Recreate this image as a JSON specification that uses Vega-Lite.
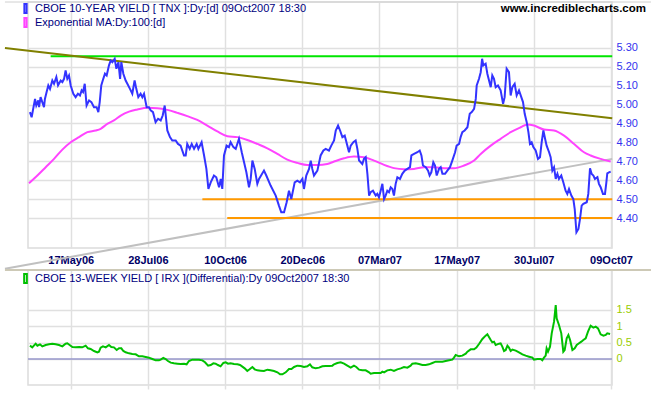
{
  "$schema": "https://vega.github.io/schema/vega-lite/v6.json",
  "padding": 0,
  "background": "white",
  "spacing": 22,
  "bounds": "flush",
  "resolve": {"scale": {"color": "independent"}},
  "config": {
    "font": "Liberation Sans",
    "view": {"stroke": "#dcdcdc", "strokeWidth": 1.5},
    "axis": {"gridColor": "#e0e0e0", "gridWidth": 1.5, "domain": false, "labelFont": "Liberation Sans", "title": null}
  },
  "datasets": {
    "trends": [
      {"name": "green", "d": -13.0, "v": 5.255}, {"name": "green", "d": 350.8, "v": 5.255},
      {"name": "olive", "d": -42.6, "v": 5.299}, {"name": "olive", "d": 350.8, "v": 4.928},
      {"name": "gray", "d": -42.6, "v": 4.132}, {"name": "gray", "d": 350.8, "v": 4.713},
      {"name": "orange1", "d": 85.3, "v": 4.5}, {"name": "orange1", "d": 350.8, "v": 4.5},
      {"name": "orange2", "d": 101.4, "v": 4.4}, {"name": "orange2", "d": 350.8, "v": 4.4}
    ],
    "ema": [
      {"s":"EMA","d":-27.0,"v":4.584},{"s":"EMA","d":-21.6,"v":4.625},{"s":"EMA","d":-16.2,"v":4.669},{"s":"EMA","d":-10.8,"v":4.713},{"s":"EMA","d":-5.4,"v":4.762},{"s":"EMA","d":0.0,"v":4.801},{"s":"EMA","d":5.4,"v":4.828},{"s":"EMA","d":10.8,"v":4.854},{"s":"EMA","d":16.2,"v":4.863},{"s":"EMA","d":19.4,"v":4.872},{"s":"EMA","d":23.7,"v":4.898},{"s":"EMA","d":28.0,"v":4.916},{"s":"EMA","d":32.4,"v":4.942},{"s":"EMA","d":37.8,"v":4.963},{"s":"EMA","d":43.2,"v":4.974},{"s":"EMA","d":49.6,"v":4.983},{"s":"EMA","d":56.1,"v":4.981},{"s":"EMA","d":62.6,"v":4.972},{"s":"EMA","d":69.1,"v":4.956},{"s":"EMA","d":75.5,"v":4.939},{"s":"EMA","d":82.0,"v":4.919},{"s":"EMA","d":88.5,"v":4.889},{"s":"EMA","d":95.0,"v":4.858},{"s":"EMA","d":101.5,"v":4.833},{"s":"EMA","d":108.0,"v":4.828},{"s":"EMA","d":114.4,"v":4.813},{"s":"EMA","d":120.9,"v":4.792},{"s":"EMA","d":127.4,"v":4.769},{"s":"EMA","d":133.9,"v":4.739},{"s":"EMA","d":140.3,"v":4.709},{"s":"EMA","d":146.8,"v":4.692},{"s":"EMA","d":153.3,"v":4.681},{"s":"EMA","d":159.8,"v":4.681},{"s":"EMA","d":166.2,"v":4.686},{"s":"EMA","d":170.6,"v":4.699},{"s":"EMA","d":177.1,"v":4.716},{"s":"EMA","d":183.5,"v":4.725},{"s":"EMA","d":190.0,"v":4.722},{"s":"EMA","d":196.5,"v":4.704},{"s":"EMA","d":203.0,"v":4.681},{"s":"EMA","d":209.4,"v":4.664},{"s":"EMA","d":215.9,"v":4.658},{"s":"EMA","d":222.4,"v":4.660},{"s":"EMA","d":228.9,"v":4.669},{"s":"EMA","d":235.4,"v":4.669},{"s":"EMA","d":241.8,"v":4.664},{"s":"EMA","d":248.3,"v":4.664},{"s":"EMA","d":254.8,"v":4.678},{"s":"EMA","d":261.3,"v":4.704},{"s":"EMA","d":265.6,"v":4.739},{"s":"EMA","d":272.1,"v":4.783},{"s":"EMA","d":278.5,"v":4.819},{"s":"EMA","d":285.0,"v":4.854},{"s":"EMA","d":291.5,"v":4.880},{"s":"EMA","d":295.8,"v":4.895},{"s":"EMA","d":300.1,"v":4.889},{"s":"EMA","d":306.6,"v":4.868},{"s":"EMA","d":313.1,"v":4.863},{"s":"EMA","d":319.6,"v":4.836},{"s":"EMA","d":326.1,"v":4.792},{"s":"EMA","d":332.5,"v":4.748},{"s":"EMA","d":336.8,"v":4.731},{"s":"EMA","d":343.3,"v":4.713},{"s":"EMA","d":349.8,"v":4.699}
    ],
    "tnx": [
      {"s":"TNX","d":-26.4,"v":4.960},{"s":"TNX","d":-25.3,"v":4.933},{"s":"TNX","d":-23.1,"v":5.030},{"s":"TNX","d":-22.3,"v":4.995},{"s":"TNX","d":-21.0,"v":5.022},{"s":"TNX","d":-20.5,"v":4.986},{"s":"TNX","d":-19.5,"v":5.039},{"s":"TNX","d":-18.4,"v":5.013},{"s":"TNX","d":-17.3,"v":4.986},{"s":"TNX","d":-16.7,"v":5.030},{"s":"TNX","d":-15.6,"v":5.066},{"s":"TNX","d":-14.5,"v":5.101},{"s":"TNX","d":-13.4,"v":5.083},{"s":"TNX","d":-11.9,"v":5.127},{"s":"TNX","d":-10.8,"v":5.110},{"s":"TNX","d":-9.3,"v":5.145},{"s":"TNX","d":-8.2,"v":5.101},{"s":"TNX","d":-6.5,"v":5.127},{"s":"TNX","d":-5.4,"v":5.119},{"s":"TNX","d":-4.3,"v":5.136},{"s":"TNX","d":-3.3,"v":5.180},{"s":"TNX","d":-2.2,"v":5.136},{"s":"TNX","d":-1.1,"v":5.154},{"s":"TNX","d":0.0,"v":5.101},{"s":"TNX","d":1.7,"v":5.057},{"s":"TNX","d":3.2,"v":5.039},{"s":"TNX","d":4.7,"v":5.057},{"s":"TNX","d":6.0,"v":5.048},{"s":"TNX","d":7.1,"v":5.075},{"s":"TNX","d":8.0,"v":5.066},{"s":"TNX","d":9.1,"v":5.110},{"s":"TNX","d":10.3,"v":4.995},{"s":"TNX","d":11.9,"v":5.022},{"s":"TNX","d":13.4,"v":5.013},{"s":"TNX","d":15.1,"v":4.986},{"s":"TNX","d":16.8,"v":4.986},{"s":"TNX","d":17.9,"v":4.960},{"s":"TNX","d":18.8,"v":5.013},{"s":"TNX","d":19.8,"v":5.101},{"s":"TNX","d":21.1,"v":5.136},{"s":"TNX","d":22.2,"v":5.163},{"s":"TNX","d":23.3,"v":5.154},{"s":"TNX","d":24.8,"v":5.207},{"s":"TNX","d":25.9,"v":5.233},{"s":"TNX","d":27.0,"v":5.224},{"s":"TNX","d":28.5,"v":5.242},{"s":"TNX","d":29.6,"v":5.189},{"s":"TNX","d":30.9,"v":5.224},{"s":"TNX","d":32.0,"v":5.136},{"s":"TNX","d":32.8,"v":5.224},{"s":"TNX","d":34.1,"v":5.163},{"s":"TNX","d":35.6,"v":5.127},{"s":"TNX","d":36.7,"v":5.110},{"s":"TNX","d":38.4,"v":5.083},{"s":"TNX","d":39.9,"v":5.057},{"s":"TNX","d":41.4,"v":5.127},{"s":"TNX","d":42.5,"v":5.083},{"s":"TNX","d":43.8,"v":5.039},{"s":"TNX","d":45.3,"v":5.057},{"s":"TNX","d":46.4,"v":5.039},{"s":"TNX","d":47.5,"v":5.057},{"s":"TNX","d":49.2,"v":4.986},{"s":"TNX","d":50.7,"v":4.986},{"s":"TNX","d":51.8,"v":4.969},{"s":"TNX","d":53.3,"v":4.960},{"s":"TNX","d":55.0,"v":4.907},{"s":"TNX","d":56.6,"v":4.925},{"s":"TNX","d":58.3,"v":4.916},{"s":"TNX","d":59.6,"v":4.942},{"s":"TNX","d":60.9,"v":4.995},{"s":"TNX","d":62.6,"v":4.863},{"s":"TNX","d":64.3,"v":4.828},{"s":"TNX","d":65.8,"v":4.810},{"s":"TNX","d":68.0,"v":4.810},{"s":"TNX","d":69.5,"v":4.792},{"s":"TNX","d":71.2,"v":4.783},{"s":"TNX","d":73.4,"v":4.731},{"s":"TNX","d":74.5,"v":4.731},{"s":"TNX","d":75.5,"v":4.792},{"s":"TNX","d":77.1,"v":4.766},{"s":"TNX","d":78.4,"v":4.792},{"s":"TNX","d":79.9,"v":4.766},{"s":"TNX","d":81.6,"v":4.792},{"s":"TNX","d":82.7,"v":4.766},{"s":"TNX","d":84.8,"v":4.801},{"s":"TNX","d":86.4,"v":4.731},{"s":"TNX","d":87.9,"v":4.660},{"s":"TNX","d":89.2,"v":4.554},{"s":"TNX","d":90.7,"v":4.589},{"s":"TNX","d":92.8,"v":4.625},{"s":"TNX","d":94.3,"v":4.616},{"s":"TNX","d":96.1,"v":4.563},{"s":"TNX","d":97.2,"v":4.607},{"s":"TNX","d":98.2,"v":4.554},{"s":"TNX","d":99.3,"v":4.731},{"s":"TNX","d":101.0,"v":4.783},{"s":"TNX","d":102.5,"v":4.775},{"s":"TNX","d":103.6,"v":4.801},{"s":"TNX","d":105.4,"v":4.775},{"s":"TNX","d":106.9,"v":4.766},{"s":"TNX","d":109.0,"v":4.819},{"s":"TNX","d":110.8,"v":4.748},{"s":"TNX","d":112.3,"v":4.695},{"s":"TNX","d":113.8,"v":4.642},{"s":"TNX","d":115.5,"v":4.563},{"s":"TNX","d":116.6,"v":4.607},{"s":"TNX","d":117.7,"v":4.704},{"s":"TNX","d":119.2,"v":4.660},{"s":"TNX","d":120.9,"v":4.581},{"s":"TNX","d":122.0,"v":4.607},{"s":"TNX","d":125.2,"v":4.651},{"s":"TNX","d":126.7,"v":4.625},{"s":"TNX","d":129.5,"v":4.572},{"s":"TNX","d":132.8,"v":4.519},{"s":"TNX","d":134.9,"v":4.466},{"s":"TNX","d":136.4,"v":4.431},{"s":"TNX","d":138.2,"v":4.431},{"s":"TNX","d":139.9,"v":4.484},{"s":"TNX","d":141.4,"v":4.545},{"s":"TNX","d":142.9,"v":4.501},{"s":"TNX","d":145.1,"v":4.589},{"s":"TNX","d":146.8,"v":4.598},{"s":"TNX","d":148.5,"v":4.589},{"s":"TNX","d":150.1,"v":4.607},{"s":"TNX","d":151.1,"v":4.554},{"s":"TNX","d":152.6,"v":4.625},{"s":"TNX","d":154.4,"v":4.660},{"s":"TNX","d":155.5,"v":4.704},{"s":"TNX","d":156.5,"v":4.660},{"s":"TNX","d":157.6,"v":4.625},{"s":"TNX","d":159.8,"v":4.651},{"s":"TNX","d":161.9,"v":4.731},{"s":"TNX","d":163.7,"v":4.757},{"s":"TNX","d":165.2,"v":4.766},{"s":"TNX","d":167.3,"v":4.757},{"s":"TNX","d":168.8,"v":4.783},{"s":"TNX","d":170.6,"v":4.810},{"s":"TNX","d":171.7,"v":4.863},{"s":"TNX","d":173.2,"v":4.889},{"s":"TNX","d":174.5,"v":4.863},{"s":"TNX","d":176.0,"v":4.828},{"s":"TNX","d":177.5,"v":4.836},{"s":"TNX","d":179.2,"v":4.783},{"s":"TNX","d":180.3,"v":4.748},{"s":"TNX","d":181.4,"v":4.783},{"s":"TNX","d":183.1,"v":4.801},{"s":"TNX","d":184.6,"v":4.810},{"s":"TNX","d":185.7,"v":4.766},{"s":"TNX","d":186.8,"v":4.704},{"s":"TNX","d":187.9,"v":4.695},{"s":"TNX","d":188.9,"v":4.686},{"s":"TNX","d":190.0,"v":4.713},{"s":"TNX","d":191.1,"v":4.722},{"s":"TNX","d":192.2,"v":4.634},{"s":"TNX","d":193.3,"v":4.519},{"s":"TNX","d":194.3,"v":4.537},{"s":"TNX","d":195.8,"v":4.545},{"s":"TNX","d":197.6,"v":4.519},{"s":"TNX","d":198.6,"v":4.528},{"s":"TNX","d":199.7,"v":4.510},{"s":"TNX","d":200.8,"v":4.545},{"s":"TNX","d":201.9,"v":4.581},{"s":"TNX","d":203.0,"v":4.501},{"s":"TNX","d":204.0,"v":4.519},{"s":"TNX","d":205.1,"v":4.545},{"s":"TNX","d":206.2,"v":4.537},{"s":"TNX","d":207.3,"v":4.563},{"s":"TNX","d":208.4,"v":4.554},{"s":"TNX","d":209.4,"v":4.519},{"s":"TNX","d":210.5,"v":4.581},{"s":"TNX","d":211.6,"v":4.616},{"s":"TNX","d":213.3,"v":4.607},{"s":"TNX","d":214.8,"v":4.634},{"s":"TNX","d":216.4,"v":4.651},{"s":"TNX","d":218.1,"v":4.660},{"s":"TNX","d":219.8,"v":4.669},{"s":"TNX","d":220.7,"v":4.731},{"s":"TNX","d":222.4,"v":4.739},{"s":"TNX","d":224.6,"v":4.748},{"s":"TNX","d":226.1,"v":4.757},{"s":"TNX","d":227.2,"v":4.731},{"s":"TNX","d":228.2,"v":4.678},{"s":"TNX","d":230.0,"v":4.669},{"s":"TNX","d":231.5,"v":4.651},{"s":"TNX","d":232.5,"v":4.625},{"s":"TNX","d":233.6,"v":4.642},{"s":"TNX","d":234.9,"v":4.695},{"s":"TNX","d":236.0,"v":4.678},{"s":"TNX","d":237.1,"v":4.625},{"s":"TNX","d":238.6,"v":4.660},{"s":"TNX","d":239.7,"v":4.669},{"s":"TNX","d":240.8,"v":4.634},{"s":"TNX","d":242.5,"v":4.634},{"s":"TNX","d":244.0,"v":4.651},{"s":"TNX","d":245.7,"v":4.669},{"s":"TNX","d":247.2,"v":4.704},{"s":"TNX","d":249.0,"v":4.748},{"s":"TNX","d":250.0,"v":4.783},{"s":"TNX","d":251.6,"v":4.792},{"s":"TNX","d":252.6,"v":4.828},{"s":"TNX","d":253.7,"v":4.854},{"s":"TNX","d":255.2,"v":4.863},{"s":"TNX","d":257.0,"v":4.880},{"s":"TNX","d":258.5,"v":4.951},{"s":"TNX","d":259.8,"v":4.960},{"s":"TNX","d":261.3,"v":4.977},{"s":"TNX","d":262.4,"v":5.030},{"s":"TNX","d":263.0,"v":5.101},{"s":"TNX","d":264.5,"v":5.136},{"s":"TNX","d":265.6,"v":5.171},{"s":"TNX","d":266.5,"v":5.242},{"s":"TNX","d":267.3,"v":5.207},{"s":"TNX","d":268.8,"v":5.216},{"s":"TNX","d":269.9,"v":5.163},{"s":"TNX","d":271.0,"v":5.127},{"s":"TNX","d":272.1,"v":5.092},{"s":"TNX","d":273.1,"v":5.154},{"s":"TNX","d":274.2,"v":5.136},{"s":"TNX","d":275.3,"v":5.092},{"s":"TNX","d":276.8,"v":5.101},{"s":"TNX","d":278.5,"v":5.075},{"s":"TNX","d":280.1,"v":5.004},{"s":"TNX","d":281.1,"v":5.039},{"s":"TNX","d":282.4,"v":5.189},{"s":"TNX","d":283.9,"v":5.171},{"s":"TNX","d":285.0,"v":5.048},{"s":"TNX","d":286.1,"v":5.092},{"s":"TNX","d":287.6,"v":5.110},{"s":"TNX","d":288.9,"v":5.048},{"s":"TNX","d":290.4,"v":5.075},{"s":"TNX","d":291.9,"v":5.039},{"s":"TNX","d":293.0,"v":5.013},{"s":"TNX","d":294.1,"v":4.951},{"s":"TNX","d":295.4,"v":4.907},{"s":"TNX","d":296.5,"v":4.854},{"s":"TNX","d":297.5,"v":4.792},{"s":"TNX","d":298.6,"v":4.801},{"s":"TNX","d":299.7,"v":4.775},{"s":"TNX","d":301.2,"v":4.757},{"s":"TNX","d":302.7,"v":4.713},{"s":"TNX","d":304.0,"v":4.722},{"s":"TNX","d":305.1,"v":4.801},{"s":"TNX","d":306.2,"v":4.863},{"s":"TNX","d":307.3,"v":4.819},{"s":"TNX","d":308.3,"v":4.783},{"s":"TNX","d":309.9,"v":4.748},{"s":"TNX","d":310.9,"v":4.722},{"s":"TNX","d":312.0,"v":4.651},{"s":"TNX","d":313.1,"v":4.669},{"s":"TNX","d":314.2,"v":4.607},{"s":"TNX","d":315.3,"v":4.634},{"s":"TNX","d":316.3,"v":4.607},{"s":"TNX","d":317.8,"v":4.625},{"s":"TNX","d":319.1,"v":4.589},{"s":"TNX","d":320.6,"v":4.545},{"s":"TNX","d":321.7,"v":4.528},{"s":"TNX","d":322.8,"v":4.554},{"s":"TNX","d":324.3,"v":4.519},{"s":"TNX","d":325.6,"v":4.501},{"s":"TNX","d":326.5,"v":4.448},{"s":"TNX","d":327.6,"v":4.325},{"s":"TNX","d":328.9,"v":4.343},{"s":"TNX","d":329.9,"v":4.395},{"s":"TNX","d":331.0,"v":4.466},{"s":"TNX","d":332.1,"v":4.475},{"s":"TNX","d":334.3,"v":4.484},{"s":"TNX","d":335.3,"v":4.528},{"s":"TNX","d":336.4,"v":4.663},{"s":"TNX","d":337.5,"v":4.633},{"s":"TNX","d":338.6,"v":4.625},{"s":"TNX","d":339.6,"v":4.607},{"s":"TNX","d":341.2,"v":4.616},{"s":"TNX","d":342.2,"v":4.581},{"s":"TNX","d":343.3,"v":4.563},{"s":"TNX","d":344.8,"v":4.528},{"s":"TNX","d":346.1,"v":4.528},{"s":"TNX","d":347.0,"v":4.589},{"s":"TNX","d":347.6,"v":4.637},{"s":"TNX","d":348.7,"v":4.642},{"s":"TNX","d":349.8,"v":4.646}
    ],
    "irx": [
      {"s":"IRX","d":-26.4,"v":0.408},{"s":"IRX","d":-24.9,"v":0.357},{"s":"IRX","d":-22.7,"v":0.469},{"s":"IRX","d":-21.6,"v":0.408},{"s":"IRX","d":-19.9,"v":0.449},{"s":"IRX","d":-18.4,"v":0.388},{"s":"IRX","d":-16.2,"v":0.429},{"s":"IRX","d":-14.1,"v":0.449},{"s":"IRX","d":-11.9,"v":0.469},{"s":"IRX","d":-9.7,"v":0.449},{"s":"IRX","d":-7.6,"v":0.429},{"s":"IRX","d":-5.4,"v":0.388},{"s":"IRX","d":-3.3,"v":0.469},{"s":"IRX","d":-2.2,"v":0.480},{"s":"IRX","d":-0.7,"v":0.429},{"s":"IRX","d":1.1,"v":0.367},{"s":"IRX","d":3.2,"v":0.357},{"s":"IRX","d":5.4,"v":0.367},{"s":"IRX","d":7.5,"v":0.357},{"s":"IRX","d":9.7,"v":0.408},{"s":"IRX","d":11.2,"v":0.327},{"s":"IRX","d":12.9,"v":0.306},{"s":"IRX","d":15.1,"v":0.245},{"s":"IRX","d":17.3,"v":0.204},{"s":"IRX","d":18.3,"v":0.224},{"s":"IRX","d":19.4,"v":0.347},{"s":"IRX","d":20.9,"v":0.388},{"s":"IRX","d":22.7,"v":0.357},{"s":"IRX","d":24.8,"v":0.429},{"s":"IRX","d":26.3,"v":0.367},{"s":"IRX","d":28.0,"v":0.357},{"s":"IRX","d":29.8,"v":0.276},{"s":"IRX","d":31.3,"v":0.327},{"s":"IRX","d":32.8,"v":0.327},{"s":"IRX","d":34.1,"v":0.245},{"s":"IRX","d":35.6,"v":0.204},{"s":"IRX","d":37.8,"v":0.173},{"s":"IRX","d":39.9,"v":0.153},{"s":"IRX","d":42.1,"v":0.143},{"s":"IRX","d":44.2,"v":0.082},{"s":"IRX","d":46.4,"v":0.082},{"s":"IRX","d":48.6,"v":0.061},{"s":"IRX","d":50.7,"v":0.041},{"s":"IRX","d":52.9,"v":0.0},{"s":"IRX","d":55.0,"v":-0.041},{"s":"IRX","d":57.2,"v":-0.041},{"s":"IRX","d":58.3,"v":-0.020},{"s":"IRX","d":60.0,"v":0.031},{"s":"IRX","d":61.5,"v":0.0},{"s":"IRX","d":63.0,"v":-0.061},{"s":"IRX","d":64.8,"v":-0.112},{"s":"IRX","d":66.9,"v":-0.133},{"s":"IRX","d":69.1,"v":-0.143},{"s":"IRX","d":71.2,"v":-0.153},{"s":"IRX","d":73.4,"v":-0.143},{"s":"IRX","d":75.1,"v":-0.163},{"s":"IRX","d":76.6,"v":-0.061},{"s":"IRX","d":78.8,"v":-0.020},{"s":"IRX","d":81.0,"v":-0.020},{"s":"IRX","d":83.1,"v":-0.020},{"s":"IRX","d":85.3,"v":-0.041},{"s":"IRX","d":87.0,"v":-0.102},{"s":"IRX","d":89.0,"v":-0.204},{"s":"IRX","d":90.7,"v":-0.184},{"s":"IRX","d":92.4,"v":-0.133},{"s":"IRX","d":93.9,"v":-0.143},{"s":"IRX","d":95.4,"v":-0.184},{"s":"IRX","d":97.1,"v":-0.224},{"s":"IRX","d":98.9,"v":-0.122},{"s":"IRX","d":100.4,"v":-0.102},{"s":"IRX","d":101.9,"v":-0.143},{"s":"IRX","d":103.6,"v":-0.133},{"s":"IRX","d":105.8,"v":-0.153},{"s":"IRX","d":108.0,"v":-0.163},{"s":"IRX","d":109.7,"v":-0.184},{"s":"IRX","d":111.2,"v":-0.235},{"s":"IRX","d":112.7,"v":-0.286},{"s":"IRX","d":114.4,"v":-0.367},{"s":"IRX","d":115.9,"v":-0.316},{"s":"IRX","d":117.7,"v":-0.245},{"s":"IRX","d":119.2,"v":-0.316},{"s":"IRX","d":120.9,"v":-0.347},{"s":"IRX","d":123.1,"v":-0.357},{"s":"IRX","d":125.2,"v":-0.367},{"s":"IRX","d":127.4,"v":-0.327},{"s":"IRX","d":129.5,"v":-0.347},{"s":"IRX","d":131.7,"v":-0.367},{"s":"IRX","d":133.9,"v":-0.408},{"s":"IRX","d":135.6,"v":-0.469},{"s":"IRX","d":137.1,"v":-0.469},{"s":"IRX","d":139.3,"v":-0.408},{"s":"IRX","d":141.4,"v":-0.306},{"s":"IRX","d":143.0,"v":-0.306},{"s":"IRX","d":144.7,"v":-0.245},{"s":"IRX","d":146.8,"v":-0.204},{"s":"IRX","d":149.0,"v":-0.214},{"s":"IRX","d":151.1,"v":-0.245},{"s":"IRX","d":153.3,"v":-0.224},{"s":"IRX","d":155.0,"v":-0.163},{"s":"IRX","d":156.5,"v":-0.255},{"s":"IRX","d":158.7,"v":-0.286},{"s":"IRX","d":160.9,"v":-0.265},{"s":"IRX","d":163.0,"v":-0.224},{"s":"IRX","d":165.2,"v":-0.214},{"s":"IRX","d":167.3,"v":-0.214},{"s":"IRX","d":169.5,"v":-0.204},{"s":"IRX","d":170.6,"v":-0.163},{"s":"IRX","d":172.7,"v":-0.122},{"s":"IRX","d":174.9,"v":-0.102},{"s":"IRX","d":177.1,"v":-0.143},{"s":"IRX","d":179.2,"v":-0.204},{"s":"IRX","d":181.4,"v":-0.265},{"s":"IRX","d":183.5,"v":-0.204},{"s":"IRX","d":185.0,"v":-0.245},{"s":"IRX","d":186.8,"v":-0.327},{"s":"IRX","d":188.9,"v":-0.347},{"s":"IRX","d":191.1,"v":-0.347},{"s":"IRX","d":193.3,"v":-0.408},{"s":"IRX","d":194.3,"v":-0.449},{"s":"IRX","d":196.5,"v":-0.429},{"s":"IRX","d":198.6,"v":-0.429},{"s":"IRX","d":200.8,"v":-0.429},{"s":"IRX","d":201.9,"v":-0.388},{"s":"IRX","d":203.0,"v":-0.408},{"s":"IRX","d":205.1,"v":-0.347},{"s":"IRX","d":207.3,"v":-0.327},{"s":"IRX","d":209.4,"v":-0.367},{"s":"IRX","d":211.6,"v":-0.316},{"s":"IRX","d":213.8,"v":-0.286},{"s":"IRX","d":215.9,"v":-0.245},{"s":"IRX","d":218.1,"v":-0.265},{"s":"IRX","d":220.2,"v":-0.204},{"s":"IRX","d":221.3,"v":-0.143},{"s":"IRX","d":223.5,"v":-0.133},{"s":"IRX","d":225.6,"v":-0.153},{"s":"IRX","d":227.8,"v":-0.184},{"s":"IRX","d":230.0,"v":-0.184},{"s":"IRX","d":232.1,"v":-0.163},{"s":"IRX","d":234.3,"v":-0.122},{"s":"IRX","d":236.4,"v":-0.082},{"s":"IRX","d":238.6,"v":-0.082},{"s":"IRX","d":240.8,"v":-0.082},{"s":"IRX","d":242.9,"v":-0.061},{"s":"IRX","d":245.1,"v":-0.041},{"s":"IRX","d":247.2,"v":-0.020},{"s":"IRX","d":248.3,"v":0.041},{"s":"IRX","d":249.4,"v":0.122},{"s":"IRX","d":251.6,"v":0.082},{"s":"IRX","d":253.7,"v":0.102},{"s":"IRX","d":255.9,"v":0.163},{"s":"IRX","d":257.0,"v":0.224},{"s":"IRX","d":259.1,"v":0.296},{"s":"IRX","d":261.3,"v":0.296},{"s":"IRX","d":262.8,"v":0.347},{"s":"IRX","d":264.5,"v":0.459},{"s":"IRX","d":266.7,"v":0.612},{"s":"IRX","d":268.8,"v":0.714},{"s":"IRX","d":269.9,"v":0.755},{"s":"IRX","d":272.1,"v":0.582},{"s":"IRX","d":273.1,"v":0.510},{"s":"IRX","d":274.2,"v":0.531},{"s":"IRX","d":275.3,"v":0.429},{"s":"IRX","d":277.5,"v":0.469},{"s":"IRX","d":278.5,"v":0.480},{"s":"IRX","d":279.6,"v":0.378},{"s":"IRX","d":280.7,"v":0.245},{"s":"IRX","d":281.8,"v":0.276},{"s":"IRX","d":282.9,"v":0.408},{"s":"IRX","d":283.9,"v":0.347},{"s":"IRX","d":285.0,"v":0.245},{"s":"IRX","d":286.1,"v":0.286},{"s":"IRX","d":288.3,"v":0.255},{"s":"IRX","d":290.4,"v":0.204},{"s":"IRX","d":292.6,"v":0.143},{"s":"IRX","d":294.7,"v":0.102},{"s":"IRX","d":296.9,"v":0.071},{"s":"IRX","d":299.1,"v":0.041},{"s":"IRX","d":300.1,"v":-0.020},{"s":"IRX","d":302.3,"v":0.0},{"s":"IRX","d":304.5,"v":0.0},{"s":"IRX","d":305.5,"v":-0.041},{"s":"IRX","d":306.6,"v":0.041},{"s":"IRX","d":307.7,"v":0.102},{"s":"IRX","d":308.3,"v":0.327},{"s":"IRX","d":309.2,"v":0.224},{"s":"IRX","d":310.5,"v":0.378},{"s":"IRX","d":311.6,"v":0.786},{"s":"IRX","d":313.1,"v":1.143},{"s":"IRX","d":314.2,"v":1.653},{"s":"IRX","d":314.8,"v":1.245},{"s":"IRX","d":316.3,"v":1.041},{"s":"IRX","d":317.8,"v":0.786},{"s":"IRX","d":319.1,"v":0.224},{"s":"IRX","d":320.0,"v":0.276},{"s":"IRX","d":321.3,"v":0.633},{"s":"IRX","d":322.4,"v":0.735},{"s":"IRX","d":323.5,"v":0.582},{"s":"IRX","d":325.0,"v":0.276},{"s":"IRX","d":326.5,"v":0.327},{"s":"IRX","d":327.8,"v":0.429},{"s":"IRX","d":329.3,"v":0.480},{"s":"IRX","d":330.8,"v":0.531},{"s":"IRX","d":332.1,"v":0.582},{"s":"IRX","d":333.6,"v":0.633},{"s":"IRX","d":335.1,"v":0.837},{"s":"IRX","d":336.8,"v":1.020},{"s":"IRX","d":338.6,"v":0.959},{"s":"IRX","d":340.1,"v":0.990},{"s":"IRX","d":341.6,"v":0.939},{"s":"IRX","d":343.3,"v":0.755},{"s":"IRX","d":345.1,"v":0.714},{"s":"IRX","d":346.6,"v":0.735},{"s":"IRX","d":347.6,"v":0.786},{"s":"IRX","d":349.4,"v":0.765}
    ],
    "site": [{"t": "www.incrediblecharts.com", "d": 350, "v": 5.503}],
    "topframe": [{"d": -42.6, "d2": 378.5, "v": 5.542}],
    "botframe": [{"d": -42.6, "d2": 378.5, "v": 2.724}],
    "zero": [{"d": -27.66, "d2": 350.65, "v": 0}]
  },
  "vconcat": [
    {
      "width": 584,
      "height": 246,
      "encoding": {
        "x": {
          "field": "d", "type": "quantitative",
          "scale": {"domain": [-27.66, 350.65], "nice": false, "zero": false},
          "axis": {
            "values": [0, 50, 100, 150, 200, 250, 300, 350],
            "labelExpr": "['17May06','28Jul06','10Oct06','20Dec06','07Mar07','17May07','30Jul07','09Oct07'][round(datum.value/50)]",
            "title": null, "ticks": false, "tickSize": 0, "domain": false, "grid": true,
            "labelFontSize": 11, "labelFontWeight": "bold", "labelColor": "#000066",
            "labelPadding": 6, "labelFlush": false, "labelOverlap": false, "labelBound": false
          }
        },
        "y": {
          "field": "v", "type": "quantitative",
          "scale": {"domain": [4.242, 5.542], "nice": false, "zero": false},
          "axis": {
            "orient": "right",
            "values": [4.4, 4.5, 4.6, 4.7, 4.8, 4.9, 5.0, 5.1, 5.2, 5.3],
            "format": ".2f", "title": null, "ticks": false, "tickSize": 0, "domain": false, "grid": true,
            "labelFontSize": 11, "labelColor": "#3333ee", "labelPadding": 4,
            "labelOverlap": false, "labelFlush": false
          }
        }
      },
      "layer": [
        {
          "data": {"name": "topframe"},
          "mark": {"type": "rule", "clip": false, "color": "#d0d0d0", "strokeWidth": 1},
          "encoding": {"x2": {"field": "d2"}}
        },
        {
          "data": {"name": "trends"},
          "mark": {"type": "line", "clip": false, "strokeWidth": 2},
          "encoding": {
            "stroke": {
              "field": "name", "type": "nominal",
              "scale": {"domain": ["green", "olive", "gray", "orange1", "orange2"], "range": ["#00e600", "#808000", "#c0c0c0", "#ff9900", "#ff9900"]},
              "legend": null
            }
          }
        },
        {
          "data": {"name": "ema"},
          "mark": {"type": "line", "strokeWidth": 2, "interpolate": "monotone"},
          "encoding": {
            "color": {
              "field": "s", "type": "nominal",
              "scale": {"domain": ["TNX", "EMA"], "range": ["#3333ff", "#ff44ff"]},
              "legend": {
                "orient": "none", "legendX": -8, "legendY": 1, "title": null,
                "symbolType": "M-0.25,-1H0.25V1H-0.25Z", "symbolSize": 81, "symbolStrokeWidth": 2,
                "labelFontSize": 11, "labelColor": "#000080", "labelOffset": 4, "labelLimit": 500,
                "rowPadding": -6, "padding": 0,
                "labelExpr": "datum.label == 'TNX' ? 'CBOE 10-YEAR YIELD [ TNX ]:Dy:[d]  09Oct2007 18:30' : 'Exponential MA:Dy:100:[d]'"
              }
            }
          }
        },
        {
          "data": {"name": "tnx"},
          "mark": {"type": "line", "strokeWidth": 2},
          "encoding": {
            "color": {"field": "s", "type": "nominal"}
          }
        },
        {
          "data": {"name": "site"},
          "mark": {"type": "text", "align": "right", "baseline": "middle", "dx": 35, "fontWeight": "bold", "fontSize": 11.5, "color": "#000000", "clip": false},
          "encoding": {
            "text": {"field": "t"}
          }
        }
      ]
    },
    {
      "width": 584,
      "height": 115,
      "encoding": {
        "x": {
          "field": "d", "type": "quantitative",
          "scale": {"domain": [-27.66, 350.65], "nice": false, "zero": false},
          "axis": {
            "values": [0, 50, 100, 150, 200, 250, 300, 350],
            "labels": false, "ticks": true, "tickSize": 4, "tickColor": "#e0e0e0", "tickWidth": 1.5,
            "title": null, "domain": false, "grid": true
          }
        },
        "y": {
          "field": "v", "type": "quantitative",
          "scale": {"domain": [-0.796, 2.724], "nice": false, "zero": false},
          "axis": {
            "orient": "right", "values": [0, 0.5, 1, 1.5],
            "labelExpr": "format(datum.value, '.1~f')",
            "title": null, "ticks": false, "tickSize": 0, "domain": false, "grid": true,
            "labelFontSize": 11, "labelColor": "#99cc00", "labelPadding": 4,
            "labelOverlap": false, "labelFlush": false
          }
        }
      },
      "layer": [
        {
          "data": {"name": "botframe"},
          "mark": {"type": "rule", "clip": false, "color": "#cdc9b6", "strokeWidth": 2},
          "encoding": {"x2": {"field": "d2"}}
        },
        {
          "data": {"name": "zero"},
          "mark": {"type": "rule", "color": "#9999cc", "strokeWidth": 1.5},
          "encoding": {"x2": {"field": "d2"}}
        },
        {
          "data": {"name": "irx"},
          "mark": {"type": "line", "strokeWidth": 2},
          "encoding": {
            "color": {
              "field": "s", "type": "nominal",
              "scale": {"domain": ["IRX"], "range": ["#00c000"]},
              "legend": {
                "orient": "none", "legendX": -8, "legendY": 3, "title": null,
                "symbolType": "M-0.3,-1H0.3V1H-0.3Z", "symbolSize": 81, "symbolStrokeWidth": 2,
                "labelFontSize": 11, "labelColor": "#000080", "labelOffset": 4, "labelLimit": 500,
                "padding": 0,
                "labelExpr": "'CBOE 13-WEEK YIELD [ IRX ](Differential):Dy  09Oct2007 18:30'"
              }
            }
          }
        }
      ]
    }
  ]
}
